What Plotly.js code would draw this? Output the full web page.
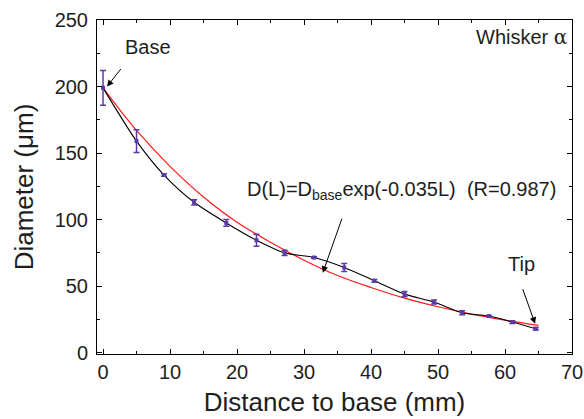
<!DOCTYPE html>
<html>
<head>
<meta charset="utf-8">
<script src="https://cdn.plot.ly/plotly-3.0.1.min.js"></script>
<style>html,body{margin:0;padding:0;background:#fff;}#chart{width:584px;height:419px;}</style>
</head>
<body>
<div id="chart"></div>
<script>
// Measured data (distance in mm, diameter in µm, error half-width)
var distance = [0, 5.0, 9.1, 13.6, 18.4, 22.9, 27.1, 31.5, 36.0, 40.5, 45.0, 49.4, 53.6, 57.6, 61.1, 64.6];
var diameter = [199, 159, 133.5, 113, 97.5, 84.5, 75, 71.5, 64, 54, 44, 38, 30, 27.5, 23, 18];
var errorBar = [13, 8.5, 1, 2, 2.5, 4.5, 2, 0.5, 3, 1, 2, 1.5, 1.5, 0.5, 1, 1];

// Fitted curve
var fitX = [0, 5, 10, 15, 20, 25, 30, 35, 40, 45, 50, 55, 60, 65];
var fitY = [199, 167, 140, 117, 98, 83, 69.5, 58, 49, 41, 34.5, 29, 24.5, 20.5];

var xTicks = [0, 10, 20, 30, 40, 50, 60, 70];
var yTicks = [0, 50, 100, 150, 200, 250];

var purple = '#5b3aa8';
var font = 'Liberation Sans, Arial, sans-serif';
var txt = '#1e1e1e';

var traces = [
  {x: fitX, y: fitY, mode: 'lines', line: {color: '#ff1a1a', width: 1.2, shape: 'spline'}, hoverinfo: 'skip'},
  {x: distance, y: diameter, mode: 'lines', line: {color: '#000', width: 1.1, shape: 'spline', smoothing: 0.8}, hoverinfo: 'skip'},
  {x: distance, y: diameter, mode: 'markers',
   marker: {symbol: 'square', size: 4, color: purple},
   error_y: {type: 'data', array: errorBar, visible: true, color: purple, thickness: 1.5, width: 3}}
];

var axisCommon = {
  showgrid: false, zeroline: false, showline: true, linecolor: '#000', linewidth: 1,
  mirror: 'ticks', ticks: 'inside', ticklen: 5, tickwidth: 1, tickcolor: '#000',
  tickfont: {family: font, size: 20, color: txt}
};

var layout = {
  width: 584, height: 419,
  margin: {l: 97, r: 12, t: 20, b: 65},
  paper_bgcolor: '#fff', plot_bgcolor: '#fff',
  showlegend: false,
  font: {family: font, color: txt},
  xaxis: Object.assign({}, axisCommon, {
    range: [-0.9, 70], tickvals: xTicks, ticklabelstandoff: 0,
    minor: {ticks: 'inside', ticklen: 3, dtick: 5, tick0: 0, tickcolor: '#000'},
    title: {text: 'Distance to base (mm)', font: {family: font, size: 26, color: txt}, standoff: 10}
  }),
  yaxis: Object.assign({}, axisCommon, {
    range: [-1, 250], tickvals: yTicks, ticklabelstandoff: 4,
    minor: {ticks: 'inside', ticklen: 3, dtick: 25, tick0: 0, tickcolor: '#000'},
    title: {text: 'Diameter (μm)', font: {family: font, size: 26, color: txt}, standoff: 13}
  }),
  annotations: [
    {x: 6.7, y: 230, text: 'Base', showarrow: false, font: {family: font, size: 20, color: txt}},
    {x: 0.6, y: 200, ax: 3.1, ay: 216, axref: 'x', ayref: 'y', text: ' ', showarrow: true, arrowhead: 2, arrowsize: 1.3, arrowwidth: 1, arrowcolor: '#000'},
    {x: 44.6, y: 122, text: 'D(L)=D<sub>base</sub>exp(-0.035L)  (R=0.987)', showarrow: false, font: {family: font, size: 20, color: txt}},
    {x: 32.8, y: 60, ax: 36.1, ay: 107, axref: 'x', ayref: 'y', text: ' ', showarrow: true, arrowhead: 2, arrowsize: 1.3, arrowwidth: 1, arrowcolor: '#000'},
    {x: 62.4, y: 66.6, text: 'Tip', showarrow: false, font: {family: font, size: 20, color: txt}},
    {x: 64.5, y: 21.7, ax: 62.2, ay: 54, axref: 'x', ayref: 'y', text: ' ', showarrow: true, arrowhead: 2, arrowsize: 1.3, arrowwidth: 1, arrowcolor: '#000'},
    {x: 69.5, y: 237, xanchor: 'right', text: 'Whisker <span style="font-family:DejaVu Serif">α</span>', showarrow: false, font: {family: font, size: 20, color: txt}}
  ]
};

Plotly.newPlot('chart', traces, layout, {displayModeBar: false, staticPlot: true});
</script>
</body>
</html>
